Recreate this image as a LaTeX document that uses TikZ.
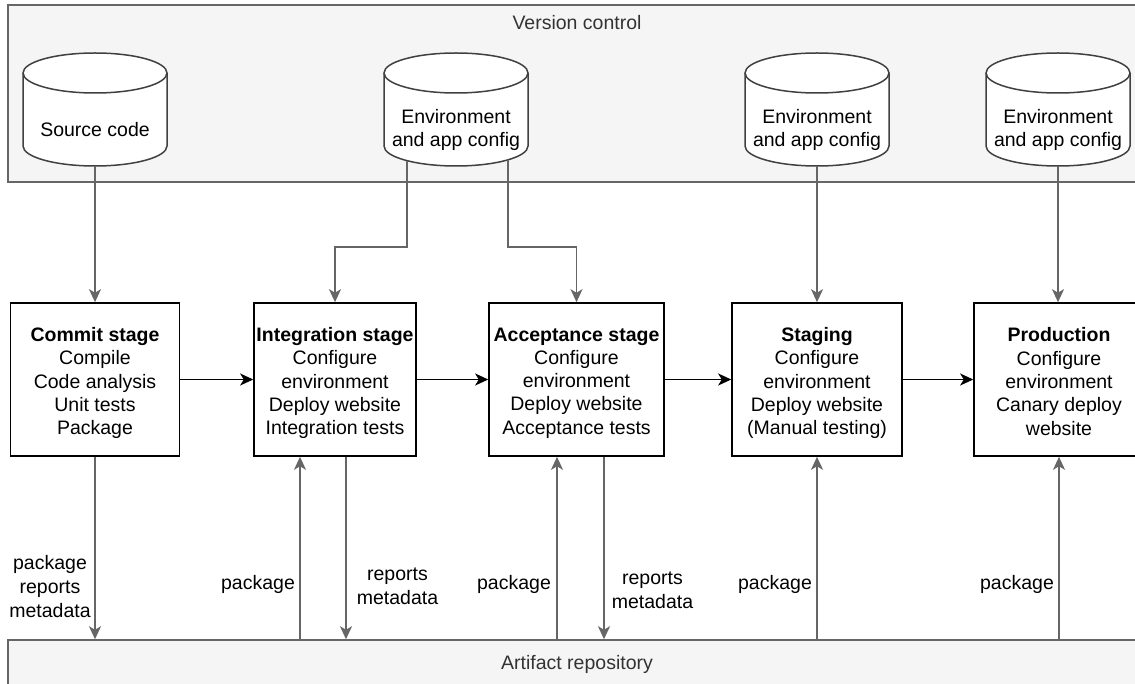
\documentclass[tikz,border=0pt]{standalone}
\usepackage{fontspec}
\setmainfont{Liberation Sans}
\usetikzlibrary{arrows.meta,positioning}

\definecolor{boxgray}{HTML}{F5F5F5}
\definecolor{linegray}{HTML}{666666}
\definecolor{textgray}{HTML}{333333}
\newcommand{\diafont}{\fontsize{19.5}{23.3}\selectfont}

\begin{document}
\begin{tikzpicture}[x=1pt,y=-1pt,
  area/.style={draw=linegray,fill=boxgray,line width=1.5pt,inner sep=0pt},
  title/.style={text=textgray,font=\diafont},
  cyl/.style={draw=black!75,fill=white,line width=1.5pt},
  repo/.style={minimum width=144pt,minimum height=72pt,inner sep=0pt,align=center,font=\diafont},
  stage/.style={draw,line width=1.6pt,minimum height=153pt,inner sep=0pt},
  stagetext/.style={align=center,font=\diafont,yshift=-3.5pt},
  flow/.style={line width=1.5pt,-{Stealth[length=13pt,width=12pt,inset=3.5pt]}},
  feed/.style={flow,draw=linegray},
  lbl/.style={align=center,font=\fontsize{19.5}{23.8}\selectfont,yshift=-2pt}]
\useasboundingbox (0,0) rectangle (1135,684);

\node[area,minimum width=1137pt,minimum height=177pt] (vc) at (576.5,93.5) {};
\node[title] (vctitle) at (577,22.5) {Version control};
\node[area,minimum width=1137pt,minimum height=60pt] (art) at (576.5,670) {};
\node[title] (arttitle) at (577,664.5) {Artifact repository};

\foreach \x in {95,456,817,1058} {
  \draw[cyl] (\x-72,73) -- (\x-72,146)
    arc[start angle=180,end angle=360,x radius=72pt,y radius=20pt] -- (\x+72,73)
    arc[start angle=0,end angle=180,x radius=72pt,y radius=20pt] -- cycle;
  \draw[cyl,fill=none] (\x-72,73) arc[start angle=180,end angle=360,x radius=72pt,y radius=20pt];
}

\node[repo] (src) at (95,130) {Source code};
\node[repo] (env1) at (456,130) {Environment\\and app config};
\node[repo] (env2) at (817,130) {Environment\\and app config};
\node[repo] (env3) at (1058,130) {Environment\\and app config};

\node[stage,minimum width=169pt,label={[stagetext]center:{\textbf{Commit stage}\\Compile\\Code analysis\\Unit tests\\Package}}] (commit) at (95,379.5) {};
\node[stage,minimum width=162pt,label={[stagetext]center:{\textbf{Integration stage}\\Configure\\environment\\Deploy website\\Integration tests}}] (integ) at (335,379.5) {};
\node[stage,minimum width=175pt,label={[stagetext]center:{\textbf{Acceptance stage}\\Configure\\environment\\Deploy website\\Acceptance tests}}] (accept) at (576.5,379.5) {};
\node[stage,minimum width=170pt,label={[stagetext]center:{\textbf{Staging}\\Configure\\environment\\Deploy website\\(Manual testing)}}] (staging) at (817,379.5) {};
\node[stage,minimum width=170pt,label={[stagetext,yshift=1.5pt]center:{\textbf{Production}\\Configure\\environment\\Canary deploy\\website}}] (prod) at (1059,379.5) {};

\draw[flow] (commit) -- (integ);
\draw[flow] (integ) -- (accept);
\draw[flow] (accept) -- (staging);
\draw[flow] (staging) -- (prod);

\draw[feed] (src.south) -- (commit.north);
\draw[feed] ([xshift=-49pt,yshift=5pt]env1.south) -- ++(0,86) -| (integ.north);
\draw[feed] ([xshift=52pt,yshift=6pt]env1.south) -- ++(0,87) -| (accept.north);
\draw[feed] (env2.south) -- (staging.north);
\draw[feed] (env3.south) -- (env3.south |- prod.north);

\coordinate (intin) at ([xshift=-35pt]integ.south);
\coordinate (intout) at ([xshift=11pt]integ.south);
\coordinate (accin) at ([xshift=-19.5pt]accept.south);
\coordinate (accout) at ([xshift=27.5pt]accept.south);

\draw[feed] (commit.south) -- (commit.south |- art.north) node[lbl,pos=.7,xshift=-45pt] {package\\reports\\metadata};
\draw[feed] (intin |- art.north) -- (intin) node[lbl,pos=.31,xshift=-42pt] {package};
\draw[feed] (intout) -- (intout |- art.north) node[lbl,pos=.7,xshift=51.5pt] {reports\\metadata};
\draw[feed] (accin |- art.north) -- (accin) node[lbl,pos=.31,xshift=-43pt] {package};
\draw[feed] (accout) -- (accout |- art.north) node[lbl,pos=.72,xshift=48.5pt] {reports\\metadata};
\draw[feed] (staging.south |- art.north) -- (staging.south) node[lbl,pos=.31,xshift=-42pt] {package};
\draw[feed] (prod.south |- art.north) -- (prod.south) node[lbl,pos=.31,xshift=-42pt] {package};
\end{tikzpicture}
\end{document}
